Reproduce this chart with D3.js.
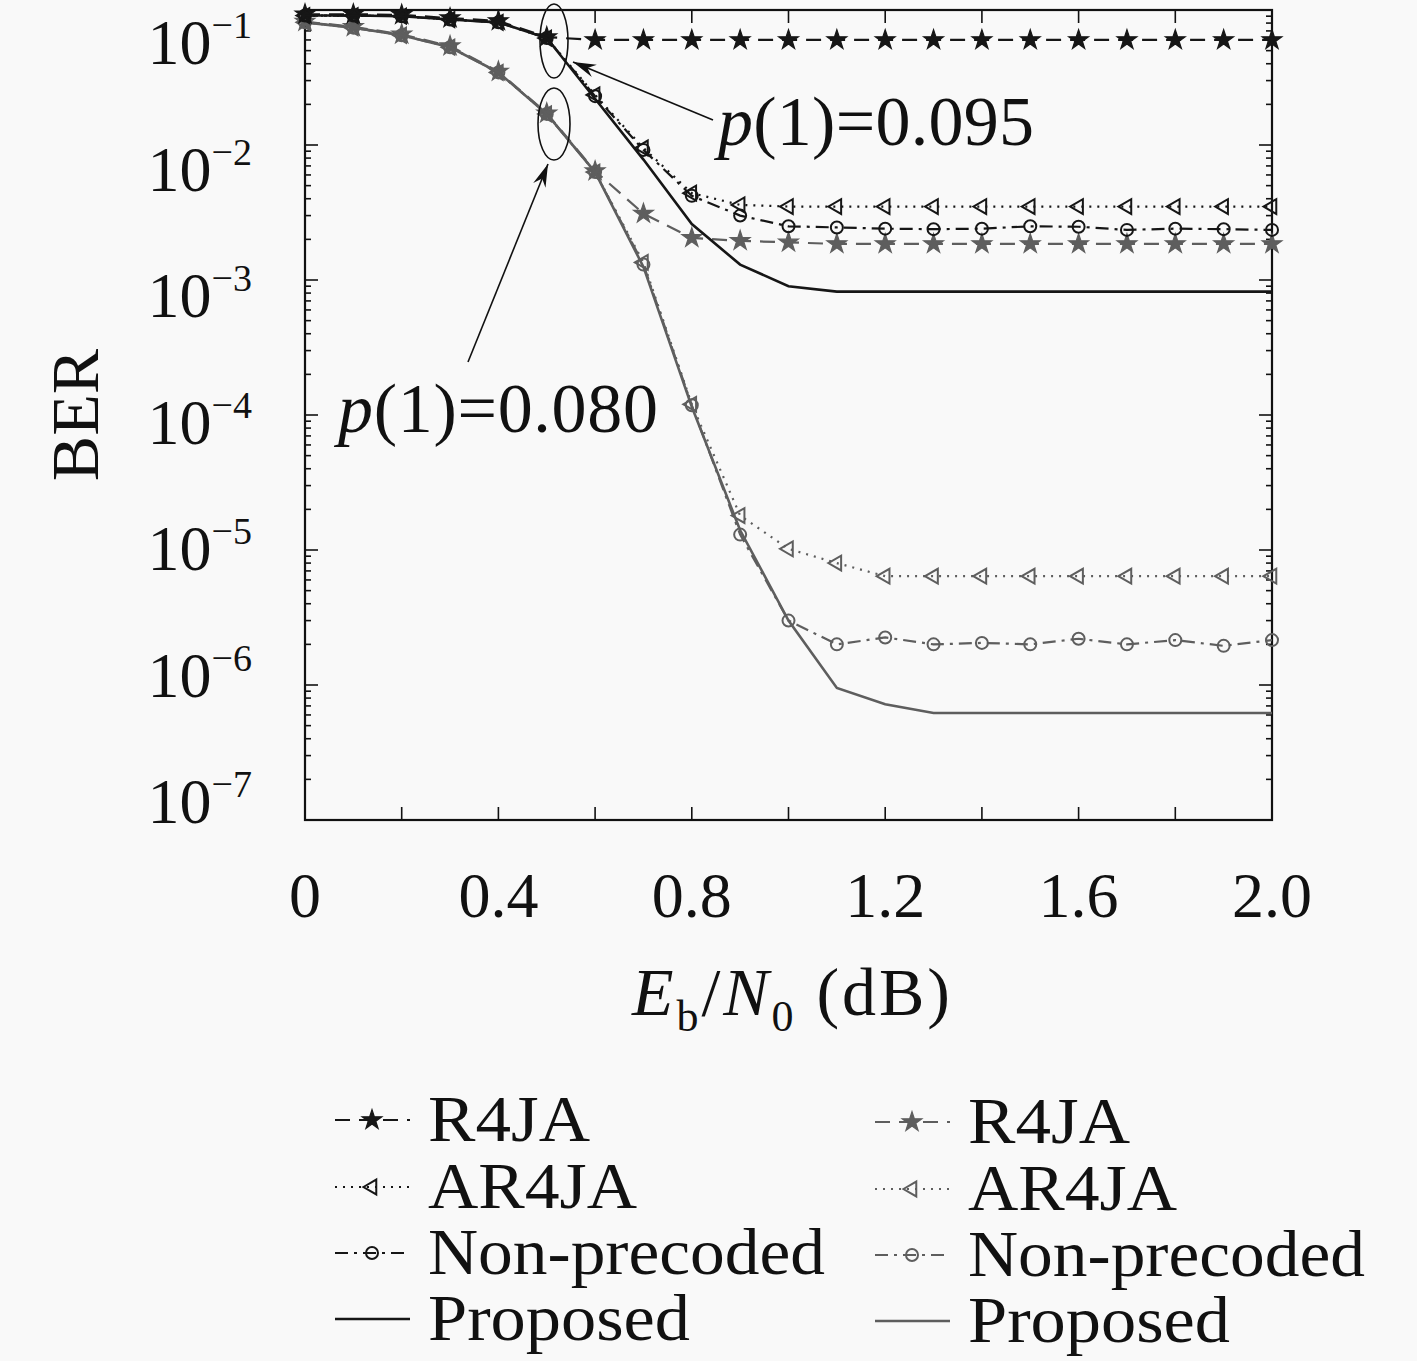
<!DOCTYPE html>
<html><head><meta charset="utf-8">
<script src="https://cdn.jsdelivr.net/npm/d3@7"></script>
<style>
body{margin:0;background:#f9f9f9}
svg{display:block;font-family:"Liberation Serif","Times New Roman",serif}
</style>
</head><body>
<svg id="chart" width="1417" height="1361"></svg>
<script>
// ---------- data ----------
const ebn0 = [0,0.1,0.2,0.3,0.4,0.5,0.6,0.7,0.8,0.9,1.0,1.1,1.2,1.3,1.4,1.5,1.6,1.7,1.8,1.9,2.0];

// p(1) = 0.095 (black)
const r4ja095   = [0.093,0.093,0.092,0.087,0.083,0.063,0.060,0.060,0.060,0.060,0.060,0.060,0.060,0.060,0.060,0.060,0.060,0.060,0.060,0.060,0.060];
const ar4ja095  = [0.091,0.091,0.090,0.085,0.081,0.062,0.0235,0.0095,0.0044,0.0036,0.0035,0.0035,0.0035,0.0035,0.0035,0.0035,0.0035,0.0035,0.0035,0.0035,0.0035];
const nonpre095 = [0.091,0.091,0.090,0.085,0.081,0.062,0.0230,0.0092,0.0042,0.0030,0.0025,0.00245,0.0024,0.00238,0.0024,0.0025,0.00248,0.00235,0.0024,0.00238,0.00235];
const prop095   = [0.091,0.091,0.090,0.085,0.081,0.062,0.0220,0.0078,0.0026,0.0013,0.00090,0.00082,0.00082,0.00082,0.00082,0.00082,0.00082,0.00082,0.00082,0.00082,0.00082];

// p(1) = 0.080 (gray)
const r4ja080   = [0.082,0.075,0.066,0.054,0.035,0.0172,0.0064,0.0031,0.00205,0.00195,0.0019,0.00185,0.00185,0.00185,0.00185,0.00185,0.00185,0.00185,0.00185,0.00185,0.00185];
const ar4ja080  = [0.081,0.074,0.065,0.053,0.0345,0.017,0.0063,0.00135,0.00012,0.000018,0.0000102,0.000008,0.0000064,0.0000064,0.0000064,0.0000064,0.0000064,0.0000064,0.0000064,0.0000064,0.0000064];
const nonpre080 = [0.081,0.074,0.065,0.053,0.0345,0.017,0.0063,0.0013,0.000118,0.000013,0.000003,0.000002,0.00000225,0.000002,0.00000205,0.000002,0.0000022,0.000002,0.00000215,0.00000195,0.00000215];
const prop080   = [0.081,0.074,0.065,0.053,0.0345,0.017,0.0063,0.00125,0.000115,0.000014,0.000003,0.00000095,0.00000072,0.00000062,0.00000062,0.00000062,0.00000062,0.00000062,0.00000062,0.00000062,0.00000062];

const legendLabels = ["R4JA","AR4JA","Non-precoded","Proposed"];
const xTickValues = [0.2,0.4,0.6,0.8,1.0,1.2,1.4,1.6,1.8];
const xLabelValues = [0,0.4,0.8,1.2,1.6,2.0];
const xLabelTexts = ["0","0.4","0.8","1.2","1.6","2.0"];
const yExponents = [-1,-2,-3,-4,-5,-6,-7];
const annotations = [{p:"0.095"},{p:"0.080"}];

// ---------- setup ----------
const svg = d3.select("#chart");
const W = 1417, H = 1361;
svg.append("rect").attr("width",W).attr("height",H).attr("fill","#f9f9f9");

const L = 305, R = 1272, T = 10, B = 820;
const x = d3.scaleLinear().domain([0,2]).range([L,R]);
const y = d3.scaleLog().domain([1e-7,1e-1]).range([B,T]);
// label baseline placement (labels in the reference are slightly compressed vs. ticks)
const yLab = d3.scaleLinear().domain([-1,-7]).range([64,823]);

const BLACK = "#161616", GRAY = "#5e5e5e";
const styles = {
  R4JA:{dash:"15,9", marker:"star"},
  AR4JA:{dash:"2,6", marker:"tri"},
  NP:{dash:"13,6,3,6", marker:"circle"},
  P:{dash:null, marker:null}
};
const series = [
  {vals:r4ja080, color:GRAY, st:styles.R4JA},
  {vals:ar4ja080, color:GRAY, st:styles.AR4JA},
  {vals:nonpre080, color:GRAY, st:styles.NP},
  {vals:prop080, color:GRAY, st:styles.P},
  {vals:r4ja095, color:BLACK, st:styles.R4JA},
  {vals:ar4ja095, color:BLACK, st:styles.AR4JA},
  {vals:nonpre095, color:BLACK, st:styles.NP},
  {vals:prop095, color:BLACK, st:styles.P}
];

// ---------- frame & ticks ----------
const minorY = [];
for (let e=-7; e<-1; e++) for (let m=1; m<=9; m++) minorY.push(m*Math.pow(10,e));
const gAx = svg.append("g").attr("stroke","#111");
minorY.forEach(v=>{
  const yy = y(v), major = (Math.abs(Math.log10(v)-Math.round(Math.log10(v)))<1e-9);
  const len = major?13:6;
  gAx.append("line").attr("x1",L).attr("x2",L+len).attr("y1",yy).attr("y2",yy).attr("stroke-width",1.6);
  gAx.append("line").attr("x1",R).attr("x2",R-len).attr("y1",yy).attr("y2",yy).attr("stroke-width",1.6);
});
xTickValues.forEach(v=>{
  gAx.append("line").attr("x1",x(v)).attr("x2",x(v)).attr("y1",B).attr("y2",B-13).attr("stroke-width",1.6);
  gAx.append("line").attr("x1",x(v)).attr("x2",x(v)).attr("y1",T).attr("y2",T+13).attr("stroke-width",1.6);
});
svg.append("rect").attr("x",L).attr("y",T).attr("width",R-L).attr("height",B-T)
  .attr("fill","none").attr("stroke","#111").attr("stroke-width",2.2);

// tick labels
xLabelValues.forEach((v,i)=>{
  svg.append("text").attr("x",x(v)).attr("y",917).attr("text-anchor","middle")
    .attr("font-size",64).attr("fill","#111").text(xLabelTexts[i]);
});
yExponents.forEach(e=>{
  const t = svg.append("text").attr("x",252).attr("y",yLab(e)).attr("text-anchor","end")
    .attr("font-size",64).attr("fill","#111");
  t.append("tspan").text("10");
  t.append("tspan").attr("font-size",38).attr("dy",-26).text("\u2212"+Math.abs(e));
});

// axis titles
svg.append("text").attr("transform","translate(98,415) rotate(-90)").attr("text-anchor","middle")
  .attr("font-size",68).attr("fill","#111").text("BER");
const xt = svg.append("text").attr("x",632).attr("y",1015).attr("font-size",68).attr("fill","#111")
  .attr("textLength",318).attr("lengthAdjust","spacing");
xt.append("tspan").attr("font-style","italic").text("E");
xt.append("tspan").attr("font-size",44).attr("dy",16).text("b");
xt.append("tspan").attr("dy",-16).text("/");
xt.append("tspan").attr("font-style","italic").text("N");
xt.append("tspan").attr("font-size",44).attr("dy",16).text("0");
xt.append("tspan").attr("dy",-16).text(" (dB)");

// ---------- curves ----------
const line = d3.line().x((d,i)=>x(ebn0[i])).y(d=>y(d));
const starSym = d3.symbol().type(d3.symbolStar).size(120)();
const triSym = d3.symbol().type(d3.symbolTriangle).size(95)();

function drawMarker(g, kind, cx, cy, color){
  if (kind==="star"){
    g.append("path").attr("d",starSym).attr("transform",`translate(${cx},${cy})`)
      .attr("fill",color).attr("stroke",color).attr("stroke-width",1.2);
  } else if (kind==="tri"){
    g.append("path").attr("d",triSym).attr("transform",`translate(${cx},${cy}) rotate(-90)`)
      .attr("fill","none").attr("stroke",color).attr("stroke-width",2);
  } else if (kind==="circle"){
    g.append("circle").attr("cx",cx).attr("cy",cy).attr("r",6)
      .attr("fill","none").attr("stroke",color).attr("stroke-width",2);
  }
}

const gC = svg.append("g");
series.forEach(s=>{
  gC.append("path").attr("d",line(s.vals)).attr("fill","none").attr("stroke",s.color)
    .attr("stroke-width",s.st.marker?2.2:2.6).attr("stroke-dasharray",s.st.dash);
  if (s.st.marker){
    s.vals.forEach((v,i)=>drawMarker(gC,s.st.marker,x(ebn0[i]),y(v),s.color));
  }
});

// ---------- annotations ----------
const ga = svg.append("g").attr("stroke","#111").attr("fill","none").attr("stroke-width",1.6);
ga.append("ellipse").attr("cx",554).attr("cy",41).attr("rx",14).attr("ry",37);
ga.append("ellipse").attr("cx",554).attr("cy",124).attr("rx",16).attr("ry",36);
function arrow(x1,y1,x2,y2){
  ga.append("line").attr("x1",x1).attr("y1",y1).attr("x2",x2).attr("y2",y2);
  const a = Math.atan2(y2-y1,x2-x1), len=24, w=0.28;
  const p1=[x2-len*Math.cos(a-w), y2-len*Math.sin(a-w)];
  const p2=[x2-len*Math.cos(a+w), y2-len*Math.sin(a+w)];
  const pm=[x2-len*0.65*Math.cos(a), y2-len*0.65*Math.sin(a)];
  svg.append("path").attr("d",`M${x2},${y2}L${p1[0]},${p1[1]}L${pm[0]},${pm[1]}L${p2[0]},${p2[1]}Z`).attr("fill","#111");
}
arrow(713,120,573,62);
arrow(468,362,548,164);

function annot(xp,yp,val,w){
  const t = svg.append("text").attr("x",xp).attr("y",yp).attr("font-size",70).attr("fill","#111")
    .attr("textLength",w).attr("lengthAdjust","spacing");
  t.append("tspan").attr("font-style","italic").text("p");
  t.append("tspan").text("(1)="+val);
}
annot(718,145,annotations[0].p,316);
annot(338,432,annotations[1].p,320);

// ---------- legend ----------
const legCols = [{color:BLACK, x0:335, tx:428, dy:0},{color:GRAY, x0:875, tx:968, dy:2}];
const legSt = [styles.R4JA, styles.AR4JA, styles.NP, styles.P];
const legW = [162,209,397,262];
const rowY = [1120,1187,1253,1319];
legCols.forEach(c=>{
  legendLabels.forEach((lab,i)=>{
    const yy = rowY[i]+c.dy;
    svg.append("line").attr("x1",c.x0).attr("x2",c.x0+75).attr("y1",yy).attr("y2",yy)
      .attr("stroke",c.color).attr("stroke-width",legSt[i].marker?2.2:2.6)
      .attr("stroke-dasharray",legSt[i].dash);
    if (legSt[i].marker) drawMarker(svg,legSt[i].marker,c.x0+37,yy,c.color);
    svg.append("text").attr("x",c.tx).attr("y",yy+21).attr("font-size",66).attr("fill","#111")
      .attr("textLength",legW[i]).attr("lengthAdjust","spacingAndGlyphs").text(lab);
  });
});
</script>
</body></html>
